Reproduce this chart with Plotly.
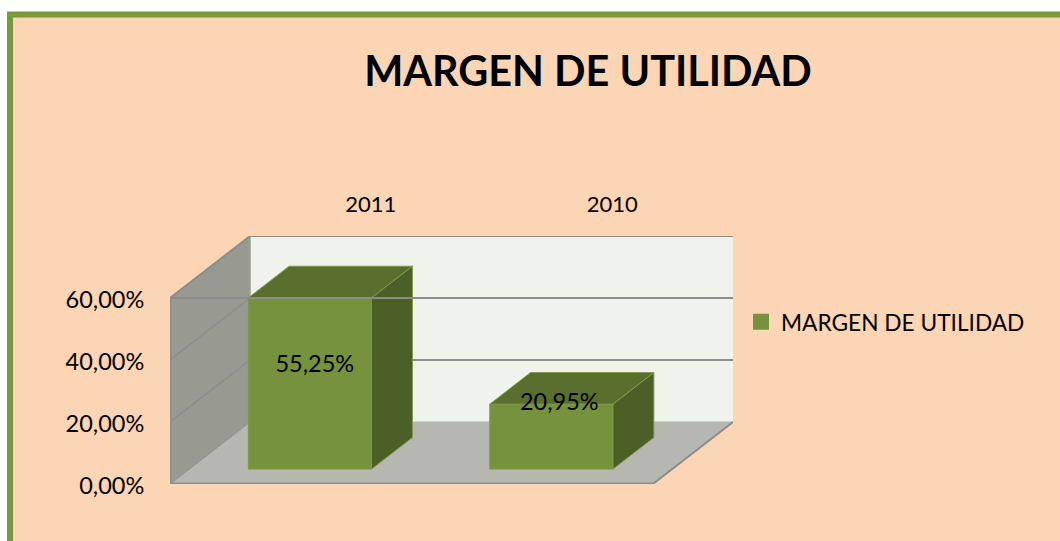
import plotly.graph_objects as go

categories = ["2011", "2010"]
values = [55.25, 20.95]
value_labels = ["55,25%", "20,95%"]
y_ticks = [0, 20, 40, 60]
y_tick_labels = ["0,00%", "20,00%", "40,00%", "60,00%"]
series_name = "MARGEN DE UTILIDAD"
title_text = "MARGEN DE UTILIDAD"

# layout constants
W, H = 1060, 541
L, R, T, B = 170, 733, 236, 484
DX = 80 / 241      # depth in x units
DY = 20            # depth in y units
BAR_W = 123 / 241
F0, F1 = 0.24, 0.75  # bar front and back depth fractions
LABEL_DX = [0.02, 0.033]
LABEL_LIFT = [10.5, 15.3]
FONT = "Lato"
FRONT, TOP, SIDE, EDGE = "#76923C", "#5A6E2D", "#4C5F27", "#7F9A48"
GRID = "#8C8C8C"
X0, X1 = -0.5, 1.5
pos = list(range(len(categories)))


def px(x):
    return (x - L) / (R - L)


def py(y):
    return (B - y) / (B - T)


def poly(points, fill, line=None, width=1, layer="below"):
    path = "M" + "L".join(f"{a},{b}" for a, b in points) + "Z"
    return dict(type="path", path=path, xref="x", yref="y", fillcolor=fill,
                line=dict(color=line or fill, width=width), layer=layer)


def seg(a, b, width=2):
    return dict(type="line", xref="x", yref="y", x0=a[0], y0=a[1], x1=b[0], y1=b[1],
                line=dict(color=GRID, width=width), layer="below")


top_v = y_ticks[-1]
shapes = [
    # page panel
    dict(type="rect", xref="paper", yref="paper", x0=px(10), x1=px(W + 20),
         y0=py(H + 20), y1=py(14.5), fillcolor="#FCD5B5",
         line=dict(color="#7B983D", width=6), layer="below"),
    # back wall, left wall, floor
    poly([(X0 + DX, DY), (X1 + DX, DY), (X1 + DX, DY + top_v), (X0 + DX, DY + top_v)], "#F0F3EB"),
    poly([(X0, 0), (X0 + DX, DY), (X0 + DX, DY + top_v), (X0, top_v)], "#989A92"),
    poly([(X0, 0), (X1, 0), (X1 + DX, DY), (X0 + DX, DY)], "#B5B7B0"),
]
for t in y_ticks[1:-1]:
    shapes.append(seg((X0, t), (X0 + DX, t + DY), 1.5))
for t in y_ticks[1:]:
    shapes.append(seg((X0 + DX, t + DY), (X1 + DX, t + DY)))
shapes += [
    seg((X0 + DX, DY + top_v), (X1 + DX, DY + top_v)),
    seg((X0, top_v), (X0 + DX, DY + top_v)),
    seg((X0, 0), (X0, top_v), 3),
    seg((X0, 0), (X1, 0), 3),
    seg((X1, 0), (X1 + DX, DY)),
    seg((X0, 0), (X0 + DX, DY), 1),
]

fig = go.Figure()

# front faces of the bars
fig.add_bar(
    x=[p + F0 * DX for p in pos],
    y=values,
    base=[F0 * DY] * len(values),
    width=BAR_W,
    name=series_name,
    showlegend=False,
    marker=dict(color=FRONT, line=dict(color=EDGE, width=1)),
    hoverinfo="skip",
)

# legend key for the series
fig.add_scatter(
    x=[None], y=[None], mode="markers", name=series_name,
    marker=dict(symbol="square", size=16, color=FRONT, line=dict(color=EDGE, width=0)),
    hoverinfo="skip",
)

# top and side faces, derived from the values
for p, v in zip(pos, values):
    xl = p + F0 * DX - BAR_W / 2
    xr = p + F0 * DX + BAR_W / 2
    yb, yt = F0 * DY, F0 * DY + v
    ddx, ddy = (F1 - F0) * DX, (F1 - F0) * DY
    for pts, col in [
        ([(xl, yt), (xr, yt), (xr + ddx, yt + ddy), (xl + ddx, yt + ddy)], TOP),
        ([(xr, yb), (xr + ddx, yb + ddy), (xr + ddx, yt + ddy), (xr, yt)], SIDE),
    ]:
        fig.add_scatter(
            x=[a for a, _ in pts] + [pts[0][0]],
            y=[b for _, b in pts] + [pts[0][1]],
            mode="lines", fill="toself", fillcolor=col,
            line=dict(color=EDGE, width=1),
            showlegend=False, hoverinfo="skip",
        )

# front top grid edge, passes over the first bar
fig.add_scatter(x=[X0, X1], y=[top_v, top_v], mode="lines",
                line=dict(color=GRID, width=2), showlegend=False, hoverinfo="skip")

# value labels
fig.add_scatter(
    x=[p + F0 * DX + d for p, d in zip(pos, LABEL_DX)],
    y=[v / 2 + k for v, k in zip(values, LABEL_LIFT)],
    mode="text", text=value_labels, textposition="middle center",
    textfont=dict(family=FONT, size=23.5, color="#000000"),
    showlegend=False, hoverinfo="skip",
)

fig.update_layout(
    width=W, height=H,
    margin=dict(l=L, r=W - R, t=T, b=H - B, autoexpand=False),
    paper_bgcolor="#FFFFFF",
    plot_bgcolor="rgba(0,0,0,0)",
    shapes=shapes,
    showlegend=True,
    title=dict(text=f"<b>{title_text}</b>", x=588 / W, y=1 - 72 / H, xanchor="center",
               yanchor="middle", font=dict(family=FONT, size=41.4, color="#000000")),
    legend=dict(x=px(741), y=py(322), xanchor="left", yanchor="middle",
                bgcolor="rgba(0,0,0,0)", font=dict(family=FONT, size=22.7, color="#000000"),
                itemwidth=30, itemsizing="trace"),
    xaxis=dict(
        range=[X0, X1 + DX], side="top", showgrid=False, zeroline=False, showline=False,
        tickmode="array", tickvals=[p + DX for p in pos], ticktext=categories,
        ticks="outside", ticklen=14, tickcolor="rgba(0,0,0,0)",
        tickfont=dict(family=FONT, size=22, color="#000000"),
    ),
    yaxis=dict(
        range=[0, top_v + DY], showgrid=False, zeroline=False, showline=False,
        tickmode="array", tickvals=y_ticks, ticktext=y_tick_labels,
        ticks="outside", ticklen=20, tickcolor="rgba(0,0,0,0)", ticklabelshift=2,
        tickfont=dict(family=FONT, size=23.5, color="#000000"),
    ),
)

fig.write_html("out.html", config={"displayModeBar": False},
               post_script="document.body.style.margin='0';")
